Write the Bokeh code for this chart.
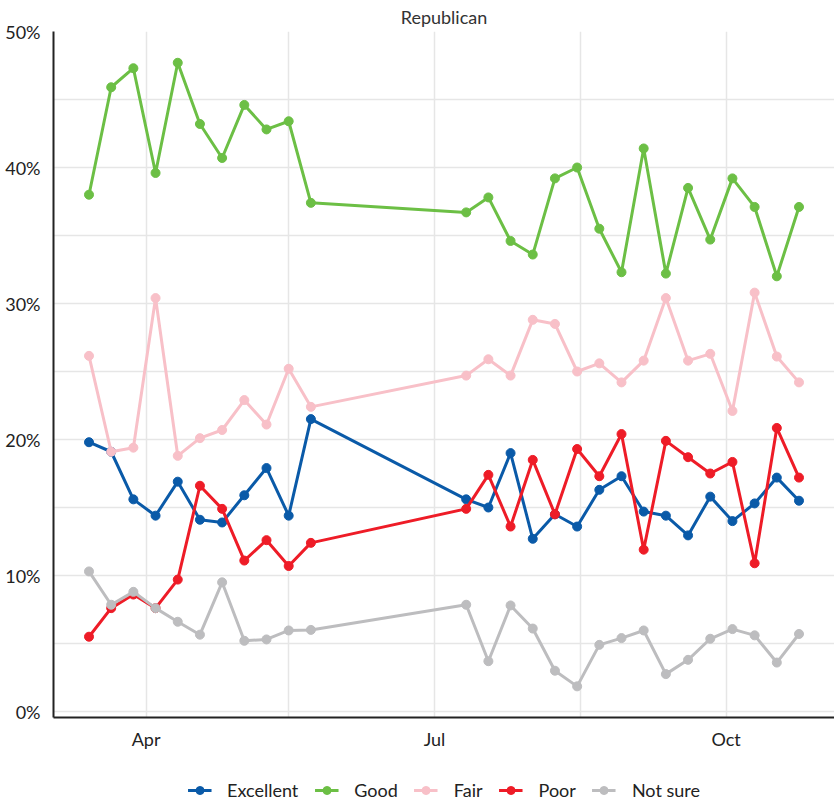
import pandas as pd
from bokeh.plotting import figure
from bokeh.layouts import column
from bokeh.models import (Range1d, FixedTicker, PrintfTickFormatter, DatetimeTickFormatter,
                          Legend)
from bokeh.embed import file_html
from bokeh.resources import INLINE

# ---- data ----
dates = ["2021-03-14", "2021-03-21", "2021-03-28", "2021-04-04", "2021-04-11", "2021-04-18",
         "2021-04-25", "2021-05-02", "2021-05-09", "2021-05-16", "2021-05-23", "2021-07-11",
         "2021-07-18", "2021-07-25", "2021-08-01", "2021-08-08", "2021-08-15", "2021-08-22",
         "2021-08-29", "2021-09-05", "2021-09-12", "2021-09-19", "2021-09-26", "2021-10-03",
         "2021-10-10", "2021-10-17", "2021-10-24"]
excellent = [19.8, 19.1, 15.6, 14.4, 16.9, 14.1, 13.9, 15.9, 17.9, 14.4, 21.5,
             15.6, 15.0, 19.0, 12.7, 14.5, 13.6, 16.3, 17.3, 14.7, 14.4, 12.95, 15.8, 14.0, 15.3, 17.2, 15.5]
good = [38.0, 45.9, 47.3, 39.6, 47.7, 43.2, 40.7, 44.6, 42.8, 43.4, 37.4,
        36.7, 37.8, 34.6, 33.6, 39.2, 40.0, 35.5, 32.3, 41.4, 32.2, 38.5, 34.7, 39.2, 37.1, 32.0, 37.1]
fair = [26.15, 19.1, 19.4, 30.4, 18.8, 20.1, 20.7, 22.9, 21.1, 25.2, 22.4,
        24.7, 25.9, 24.7, 28.8, 28.5, 25.0, 25.6, 24.2, 25.8, 30.4, 25.8, 26.3, 22.1, 30.8, 26.1, 24.2]
poor = [5.5, 7.6, 8.6, 7.6, 9.7, 16.6, 14.9, 11.1, 12.6, 10.7, 12.4,
        14.9, 17.4, 13.6, 18.5, 14.5, 19.3, 17.3, 20.4, 11.9, 19.9, 18.7, 17.5, 18.35, 10.9, 20.85, 17.2]
not_sure = [10.3, 7.85, 8.8, 7.6, 6.6, 5.65, 9.5, 5.2, 5.3, 5.96, 6.0,
            7.85, 3.7, 7.8, 6.1, 3.0, 1.85, 4.9, 5.4, 5.96, 2.75, 3.8, 5.35, 6.06, 5.6, 3.6, 5.7]

series_names = ["Excellent", "Good", "Fair", "Poor", "Not sure"]
series_colors = ["#0a5aa8", "#6cbf45", "#f8c0c8", "#ee1c27", "#bdbdbf"]
x_tick_dates = ["2021-04-01", "2021-07-01", "2021-10-01"]
x_minor_dates = ["2021-05-16", "2021-08-16"]
y_ticks = [0, 10, 20, 30, 40, 50]
y_minor = [5, 15, 25, 35, 45]
title_text = "Republican"

FONT = "Lato"

x = pd.to_datetime(dates)
xmin, xmax = x.min(), x.max()
pad = (xmax - xmin) * 0.05

p = figure(frame_width=781, frame_height=686, x_axis_type="datetime",
           output_backend="svg", toolbar_location=None,
           x_range=Range1d(xmin - pad, xmax + pad), y_range=Range1d(-0.44, 50),
           min_border_left=53, min_border_right=0, min_border_top=30, min_border_bottom=60)

p.title.text = title_text
p.title.align = "center"
p.title.text_font = FONT
p.title.text_font_size = "18px"
p.title.text_font_style = "normal"
p.title.text_color = "#333333"
p.title.standoff = 7
p.title.offset = 0

p.outline_line_color = None
p.background_fill_color = "white"
p.border_fill_color = "white"

to_ms = lambda s: pd.Timestamp(s).value / 1e6
p.xaxis.ticker = FixedTicker(ticks=[to_ms(d) for d in x_tick_dates],
                             minor_ticks=[to_ms(d) for d in x_minor_dates])
p.xaxis.formatter = DatetimeTickFormatter(days="%b", months="%b", years="%b", hours="%b",
                                          minutes="%b", seconds="%b", milliseconds="%b",
                                          microseconds="%b", hourmin="%b", minsec="%b")
p.yaxis.ticker = FixedTicker(ticks=y_ticks, minor_ticks=y_minor)
p.yaxis.formatter = PrintfTickFormatter(format="%d%%")

for ax in (p.xaxis[0], p.yaxis[0]):
    ax.axis_line_color = "#222222"
    ax.axis_line_width = 2
    ax.major_tick_line_color = None
    ax.minor_tick_line_color = None
    ax.major_tick_out = 0
    ax.major_tick_in = 0
    ax.minor_tick_out = 0
    ax.minor_tick_in = 0
    ax.major_label_text_font = FONT
    ax.major_label_text_font_size = "18px"
    ax.major_label_text_color = "#222222"
p.yaxis.major_label_standoff = 13
p.xaxis.major_label_standoff = 10

for g in (p.xgrid[0], p.ygrid[0]):
    g.grid_line_color = "#e6e6e6"
    g.grid_line_width = 1.5
    g.minor_grid_line_color = "#e6e6e6"
    g.minor_grid_line_width = 1.5

all_values = [excellent, good, fair, poor, not_sure]
for name, col, vals in zip(series_names, series_colors, all_values):
    p.line(x, vals, line_color=col, line_width=3)
    p.scatter(x, vals, size=9, fill_color=col, line_color=col)

# ---- legend strip below the chart (proxy renderers use the same data, drawn out of view) ----
lg = figure(frame_width=781, frame_height=26, output_backend="svg", toolbar_location=None,
            x_axis_type="datetime",
            x_range=Range1d(xmax + pad * 10, xmax + pad * 20), y_range=Range1d(0, 1),
            x_axis_location=None, y_axis_location=None,
            min_border_left=53, min_border_right=0, min_border_top=0, min_border_bottom=0)
lg.outline_line_color = None
lg.xgrid.visible = False
lg.ygrid.visible = False
items = []
for name, col, vals in zip(series_names, series_colors, all_values):
    l = lg.line(x, vals, line_color=col, line_width=3)
    s = lg.scatter(x, vals, size=9, fill_color=col, line_color=col)
    items.append((name, [l, s]))

legend = Legend(items=items, orientation="horizontal", location="center")
legend.label_text_font = FONT
legend.label_text_font_size = "18px"
legend.label_text_color = "#222222"
legend.glyph_width = 24
legend.glyph_height = 20
legend.label_standoff = 16
legend.spacing = 16
legend.border_line_color = None
legend.background_fill_alpha = 0
legend.margin = 0
legend.padding = 0
lg.add_layout(legend, "center")

layout = column(p, lg, spacing=0)
open("out.html", "w").write(file_html(layout, INLINE))
